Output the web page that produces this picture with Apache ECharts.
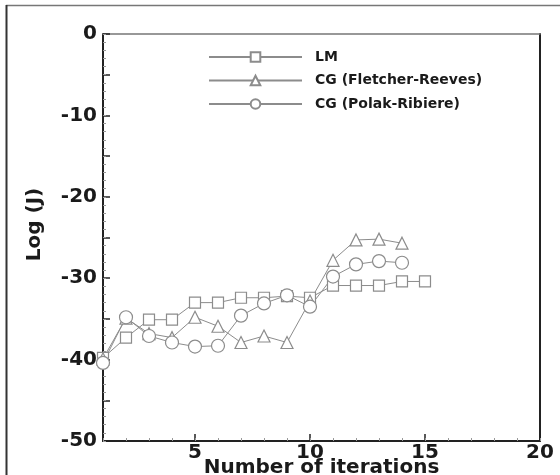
<!DOCTYPE html>
<html>
<head>
<meta charset="utf-8">
<script src="https://cdn.jsdelivr.net/npm/echarts@6/dist/echarts.min.js"></script>
<style>
  html, body { margin: 0; padding: 0; background: #fff; }
  #chart { width: 560px; height: 475px; }
</style>
</head>
<body>
<div id="chart"></div>
<script>
// Iteration numbers and log of the objective function for each optimizer
const iterations = [1, 2, 3, 4, 5, 6, 7, 8, 9, 10, 11, 12, 13, 14, 15];
const lmValues = [-39.8, -37.3, -35.1, -35.1, -33.0, -33.0, -32.4, -32.4, -32.2, -32.4, -30.9, -30.9, -30.9, -30.4, -30.4];
const fletcherValues = [-39.9, -34.9, -36.8, -37.3, -34.8, -35.9, -37.9, -37.1, -37.9, -32.8, -27.8, -25.3, -25.2, -25.7];
const polakValues = [-40.4, -34.8, -37.1, -37.9, -38.4, -38.3, -34.6, -33.1, -32.1, -33.5, -29.8, -28.3, -27.9, -28.1];
const seriesNames = ['LM', 'CG (Fletcher-Reeves)', 'CG (Polak-Ribiere)'];
const xLabelValues = [5, 10, 15, 20];

const pairs = vals => vals.map((v, i) => [iterations[i], v]);

const lineGray = '#8c8c8c';
const inkColor = '#1a1a1a';
const fontFamily = '"DejaVu Sans", sans-serif';

function makeSeries(name, values, symbol, size) {
  return {
    name: name,
    type: 'line',
    xAxisIndex: 0,
    yAxisIndex: 0,
    data: pairs(values),
    symbol: symbol,
    symbolSize: size,
    showAllSymbol: true,
    lineStyle: { color: lineGray, width: 1 },
    itemStyle: { color: '#fff', borderColor: lineGray, borderWidth: 1.2 },
    emphasis: { disabled: true },
    animation: false
  };
}

const chart = echarts.init(document.getElementById('chart'), null, { renderer: 'canvas' });

chart.setOption({
  backgroundColor: '#fff',
  animation: false,
  textStyle: { fontFamily: fontFamily },
  graphic: [
    // outer frame of the figure
    { type: 'line', shape: { x1: 6, y1: 5.5, x2: 560, y2: 5.5 }, style: { stroke: '#777', lineWidth: 1.5 } },
    { type: 'line', shape: { x1: 6.5, y1: 5, x2: 6.5, y2: 475 }, style: { stroke: '#333', lineWidth: 2 } }
  ],
  grid: { left: 103, right: 20, top: 34, bottom: 34, outerBoundsMode: 'none', containLabel: false },
  legend: {
    orient: 'vertical',
    left: 203,
    top: 45,
    itemWidth: 93,
    itemHeight: 12,
    itemGap: 9.5,
    data: seriesNames,
    textStyle: { fontFamily: fontFamily, fontWeight: 'bold', fontSize: 14, color: inkColor, padding: [0, 0, 0, 8] },
    selectedMode: false
  },
  xAxis: [
    {
      type: 'value', position: 'bottom', min: 1, max: 20,
      name: 'Number of iterations', nameLocation: 'middle', nameGap: 17, nameMoveOverlap: false,
      nameTextStyle: { fontFamily: fontFamily, fontWeight: 'bold', fontSize: 20, color: inkColor },
      axisLine: { show: true, onZero: false, lineStyle: { color: '#222', width: 2 } },
      axisTick: { show: true, inside: true, length: 7, customValues: xLabelValues, lineStyle: { color: '#222', width: 1.5 } },
      axisLabel: { show: true, customValues: xLabelValues, margin: 2, fontFamily: fontFamily, fontWeight: 'bold', fontSize: 20, color: inkColor },
      splitLine: { show: false }
    },
    {
      // unit minor ticks along the bottom
      type: 'value', position: 'bottom', min: 1, max: 20, interval: 1,
      axisLine: { show: false, onZero: false },
      axisTick: { show: true, inside: true, length: 3, lineStyle: { color: '#999', width: 1 } },
      axisLabel: { show: false },
      splitLine: { show: false }
    },
    {
      // top edge of the plot frame
      type: 'value', position: 'top', min: 1, max: 20,
      axisLine: { show: true, onZero: false, lineStyle: { color: '#777', width: 1.5 } },
      axisTick: { show: false }, axisLabel: { show: false }, splitLine: { show: false }
    }
  ],
  yAxis: [
    {
      type: 'value', position: 'left', min: -50, max: 0, interval: 5,
      name: 'Log (J)', nameLocation: 'middle', nameGap: 58, nameRotate: 90, nameMoveOverlap: false,
      nameTextStyle: { fontFamily: fontFamily, fontWeight: 'bold', fontSize: 20, color: inkColor, padding: [0, 0, 0, 26] },
      axisLine: { show: true, onZero: false, lineStyle: { color: '#222', width: 2 } },
      axisTick: { show: true, inside: true, length: 7, lineStyle: { color: '#222', width: 1.5 } },
      axisLabel: {
        show: true, margin: 6, fontFamily: fontFamily, fontWeight: 'bold', fontSize: 20, color: inkColor,
        formatter: v => (v % 10 === 0 ? String(v) : '')
      },
      splitLine: { show: false }
    },
    {
      // right edge of the plot frame
      type: 'value', position: 'right', min: -50, max: 0,
      axisLine: { show: true, onZero: false, lineStyle: { color: '#222', width: 2 } },
      axisTick: { show: false }, axisLabel: { show: false }, splitLine: { show: false }
    },
    {
      // unit minor ticks along the left edge
      type: 'value', position: 'left', min: -50, max: 0, interval: 1,
      axisLine: { show: false, onZero: false },
      axisTick: { show: true, inside: true, length: 3, lineStyle: { color: '#999', width: 1 } },
      axisLabel: { show: false },
      splitLine: { show: false }
    }
  ],
  series: [
    makeSeries(seriesNames[0], lmValues, 'rect', 11),
    makeSeries(seriesNames[1], fletcherValues, 'triangle', 12),
    makeSeries(seriesNames[2], polakValues, 'circle', 13)
  ]
});
</script>
</body>
</html>
